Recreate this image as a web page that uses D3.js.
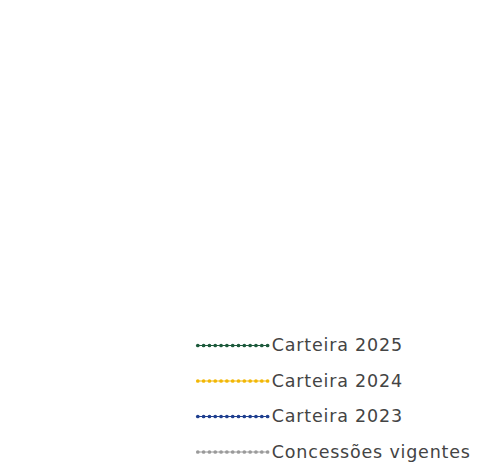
<!DOCTYPE html>
<html>
<head>
<meta charset="utf-8">
<script src="https://cdn.jsdelivr.net/npm/d3@7"></script>
<style>
  body { margin: 0; background: #fff; }
  svg { display: block; }
</style>
</head>
<body>
<svg id="drawing_region"></svg>
<script>
// legend entries (the chart area above is empty in the reference)
const series = ['Carteira 2025', 'Carteira 2024', 'Carteira 2023', 'Concessões vigentes'];
const colors = ['#1d5a3c', '#f2b705', '#1f3f8f', '#9a9a9a'];
const dotCount = 13;

const width = 485, height = 469;

const svg = d3.select('#drawing_region')
    .attr('width', width)
    .attr('height', height);

// vertical placement of legend rows
const yscale = d3.scalePoint()
    .domain(series)
    .range([345.5, 452]);

// horizontal placement of the dots in each sample line
const xscale = d3.scaleLinear()
    .domain([0, dotCount - 1])
    .range([197.8, 267.6]);

const color = d3.scaleOrdinal()
    .domain(series)
    .range(colors);

const rows = svg.append('g')
    .selectAll('g')
    .data(series)
    .join('g')
    .attr('transform', d => `translate(0, ${yscale(d)})`);

rows.append('line')
    .attr('x1', xscale(0))
    .attr('x2', xscale(dotCount - 1))
    .attr('stroke', d => color(d))
    .attr('stroke-width', 1);

rows.selectAll('circle')
    .data(d => d3.range(dotCount).map(i => ({ i, s: d })))
    .join('circle')
    .attr('cx', d => xscale(d.i))
    .attr('cy', 0)
    .attr('r', 1.85)
    .attr('fill', d => color(d.s));

rows.append('text')
    .attr('x', 271.8)
    .attr('y', 5.8)
    .attr('fill', '#444')
    .style('font-family', '"DejaVu Sans", sans-serif')
    .style('font-size', '17.5px')
    .style('letter-spacing', '0.8px')
    .text(d => d);
</script>
</body>
</html>
